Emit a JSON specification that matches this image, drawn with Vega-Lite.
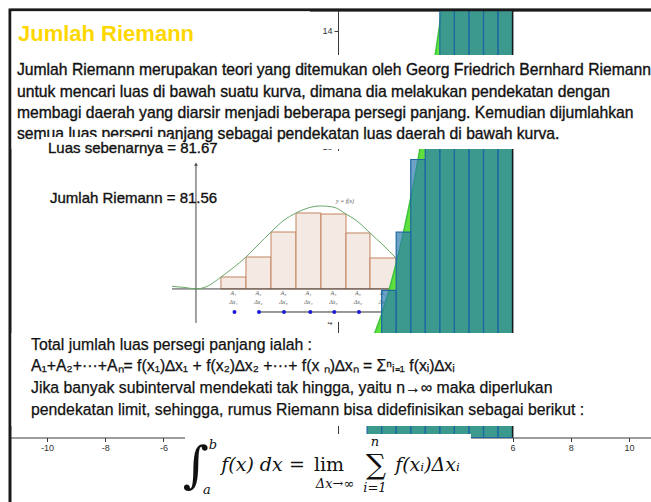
{
  "$schema": "https://vega.github.io/schema/vega-lite/v6.json",
  "width": 643,
  "height": 494,
  "autosize": {"type": "none"},
  "padding": {"left": 10, "top": 10, "right": 0, "bottom": 0},
  "background": "white",
  "view": {"stroke": "#1a1a1a", "strokeWidth": 3},
  "config": {"text": {"font": "Liberation Sans"}},
  "datasets": {
    "picbg": [{"x": -6.117, "x2": 4.192, "y": 9.856, "y2": 3.973}],
    "picbars": [
      {"x": -4.021, "x2": -3.162, "y": 5.11, "y2": 5.521},
      {"x": -3.162, "x2": -2.302, "y": 5.11, "y2": 6.209},
      {"x": -2.302, "x2": -1.443, "y": 5.11, "y2": 7.069},
      {"x": -1.443, "x2": -0.584, "y": 5.11, "y2": 7.723},
      {"x": -0.584, "x2": 0.275, "y": 5.11, "y2": 7.688},
      {"x": 0.275, "x2": 1.1, "y": 5.11, "y2": 7.035},
      {"x": 1.1, "x2": 1.993, "y": 5.11, "y2": 6.175},
      {"x": 1.993, "x2": 2.818, "y": 5.11, "y2": 5.452}
    ],
    "picaxes": [
      {"x": -5.704, "x2": 3.95, "y": 5.11, "y2": 5.11},
      {"x": -4.88, "x2": -4.88, "y": 3.939, "y2": 9.4}
    ],
    "piccurve": [
      {"x": -5.704, "y": 5.2}, {"x": -5.258, "y": 5.16}, {"x": -4.88, "y": 5.11},
      {"x": -4.467, "y": 5.212}, {"x": -4.021, "y": 5.521}, {"x": -3.608, "y": 5.831},
      {"x": -3.162, "y": 6.209}, {"x": -2.749, "y": 6.622}, {"x": -2.302, "y": 7.069},
      {"x": -1.89, "y": 7.448}, {"x": -1.443, "y": 7.723}, {"x": -1.031, "y": 7.895},
      {"x": -0.619, "y": 7.964}, {"x": -0.172, "y": 7.929}, {"x": 0.275, "y": 7.688},
      {"x": 0.687, "y": 7.42}, {"x": 1.1, "y": 7.035}, {"x": 1.546, "y": 6.622},
      {"x": 1.993, "y": 6.175}, {"x": 2.405, "y": 5.762}, {"x": 2.784, "y": 5.452},
      {"x": 3.162, "y": 5.246}, {"x": 3.505, "y": 5.143}, {"x": 3.918, "y": 5.11}
    ],
    "picline": [{"x": -2.715, "x2": 2.416, "y": 4.317}],
    "picdots": [
      {"x": -3.557, "y": 4.317}, {"x": -2.715, "y": 4.317}, {"x": -1.856, "y": 4.317},
      {"x": -0.951, "y": 4.317}, {"x": -0.127, "y": 4.317}, {"x": 0.722, "y": 4.317},
      {"x": 1.591, "y": 4.317}, {"x": 2.416, "y": 4.317}
    ],
    "piclabels": [
      {"x": -3.591, "y": 4.971, "t": "A₁"}, {"x": -2.732, "y": 4.971, "t": "A₂"},
      {"x": -1.873, "y": 4.971, "t": "A₃"}, {"x": -1.014, "y": 4.971, "t": "A₄"},
      {"x": -0.155, "y": 4.971, "t": "A₅"}, {"x": 0.687, "y": 4.971, "t": "A₆"},
      {"x": 1.546, "y": 4.971, "t": "A₇"}, {"x": 2.405, "y": 4.971, "t": "A₈"},
      {"x": -3.591, "y": 4.661, "t": "Δx₁"}, {"x": -2.732, "y": 4.661, "t": "Δx₂"},
      {"x": -1.873, "y": 4.661, "t": "Δx₃"}, {"x": -1.014, "y": 4.661, "t": "Δx₄"},
      {"x": -0.155, "y": 4.661, "t": "Δx₅"}, {"x": 0.687, "y": 4.661, "t": "Δx₆"},
      {"x": 1.546, "y": 4.661, "t": "Δx₇"}, {"x": 2.405, "y": 4.661, "t": "Δx₈"},
      {"x": 0.241, "y": 8.136, "t": "y = f(x)"}, {"x": 3.436, "y": 4.73, "t": "x"}
    ],
    "picarrowx": [{"x": 3.95, "y": 5.11}],
    "picarrowy": [{"x": -4.88, "y": 9.4}],
    "curve": [
      {"x": 1.0, "y": 3.0, "b": 0}, {"x": 1.1, "y": 3.21, "b": 0}, {"x": 1.2, "y": 3.44, "b": 0}, {"x": 1.3, "y": 3.69, "b": 0},
      {"x": 1.4, "y": 3.96, "b": 0}, {"x": 1.5, "y": 4.25, "b": 0}, {"x": 1.6, "y": 4.56, "b": 0}, {"x": 1.7, "y": 4.89, "b": 0},
      {"x": 1.8, "y": 5.24, "b": 0}, {"x": 1.9, "y": 5.61, "b": 0}, {"x": 2.0, "y": 6.0, "b": 0}, {"x": 2.1, "y": 6.41, "b": 0},
      {"x": 2.2, "y": 6.84, "b": 0}, {"x": 2.3, "y": 7.29, "b": 0}, {"x": 2.4, "y": 7.76, "b": 0}, {"x": 2.5, "y": 8.25, "b": 0},
      {"x": 2.6, "y": 8.76, "b": 0}, {"x": 2.7, "y": 9.29, "b": 0}, {"x": 2.8, "y": 9.84, "b": 0}, {"x": 2.9, "y": 10.41, "b": 0},
      {"x": 3.0, "y": 11.0, "b": 0}, {"x": 3.1, "y": 11.61, "b": 0}, {"x": 3.2, "y": 12.24, "b": 0}, {"x": 3.3, "y": 12.89, "b": 0},
      {"x": 3.4, "y": 13.56, "b": 0}, {"x": 3.5, "y": 14.25, "b": 0}, {"x": 3.6, "y": 14.96, "b": 0}, {"x": 3.7, "y": 15.69, "b": 0},
      {"x": 4.0, "y": 18.0, "b": 0}, {"x": 5.0, "y": 27.0, "b": 0}, {"x": 6.0, "y": 38.0, "b": 0}
    ],
    "bars": [
      {"x": 1.0, "x2": 1.5, "y": 0, "y2": 3.5625}, {"x": 1.5, "x2": 2.0, "y": 0, "y2": 5.0625},
      {"x": 2.0, "x2": 2.5, "y": 0, "y2": 7.0625}, {"x": 2.5, "x2": 3.0, "y": 0, "y2": 9.5625},
      {"x": 3.0, "x2": 3.5, "y": 0, "y2": 12.5625}, {"x": 3.5, "x2": 4.0, "y": 0, "y2": 16.0625},
      {"x": 4.0, "x2": 4.5, "y": 0, "y2": 20.0625}, {"x": 4.5, "x2": 5.0, "y": 0, "y2": 24.5625},
      {"x": 5.0, "x2": 5.5, "y": 0, "y2": 29.5625}, {"x": 5.5, "x2": 6.0, "y": 0, "y2": 35.0625}
    ],
    "edge": [{"x": 6.0, "y": 0, "y2": 38.0}],
    "frame": [{"x": -11.271, "x2": 10.825, "y": 14.706, "y2": 14.706}],
    "boxes": [
      {"x": -11.22, "x2": -0.962, "y": 14.665, "y2": 13.158},
      {"x": -11.22, "x2": 10.825, "y": 13.158, "y2": 9.924},
      {"x": -11.22, "x2": 10.825, "y": 3.595, "y2": 0.396},
      {"x": -5.258, "x2": 4.57, "y": 0.12, "y2": -2.288}
    ],
    "title": [{"x": -10.997, "y": 13.88, "t": "Jumlah Riemann"}],
    "para": [
      {"x": -11.031, "y": 12.642, "t": "Jumlah Riemann merupakan teori yang ditemukan oleh Georg Friedrich Bernhard Riemann"},
      {"x": -11.031, "y": 11.886, "t": "untuk mencari luas di bawah suatu kurva, dimana dia melakukan pendekatan dengan"},
      {"x": -11.031, "y": 11.146, "t": "membagi daerah yang diarsir menjadi beberapa persegi panjang. Kemudian dijumlahkan"},
      {"x": -11.031, "y": 10.441, "t": "semua luas persegi panjang sebagai pendekatan luas daerah di bawah kurva."}
    ],
    "luasbox": [{"x": -10.172, "x2": -5.773, "y": 10.337, "y2": 9.65}],
    "luas": [
      {"x": -9.966, "y": 9.959, "t": "Luas sebenarnya = 81.67"},
      {"x": -9.897, "y": 8.237, "t": "Jumlah Riemann = 81.56"}
    ],
    "body": [
      {"x": -10.55, "y": 3.182, "t": "Total jumlah luas persegi panjang ialah :"},
      {"x": -10.55, "y": 2.46, "t": "A₁+A₂+···+Aₙ= f(x₁)∆x₁ + f(x₂)∆x₂ +···+ f(x ₙ)∆xₙ = Σⁿᵢ₌₁ f(xᵢ)∆xᵢ"},
      {"x": -10.55, "y": 1.703, "t": "Jika banyak subinterval mendekati tak hingga, yaitu n→∞ maka diperlukan"},
      {"x": -10.55, "y": 0.946, "t": "pendekatan limit, sehingga, rumus  Riemann bisa didefinisikan sebagai berikut :"}
    ],
    "fint": [{"x": -4.88, "y": -1.0, "t": "∫"}],
    "fsum": [{"x": 1.306, "y": -0.98, "t": "∑"}],
    "fitalic": [
      {"x": -2.955, "y": -0.946, "t": "f(x) dx"},
      {"x": 3.076, "y": -0.946, "t": "f(xᵢ)Δxᵢ"}
    ],
    "fupright": [
      {"x": -1.409, "y": -0.946, "t": "="},
      {"x": -0.309, "y": -0.946, "t": "lim"}
    ],
    "fsmall": [
      {"x": -4.296, "y": -0.258, "t": "b"},
      {"x": -4.502, "y": -1.806, "t": "a"},
      {"x": 1.271, "y": -0.155, "t": "n"},
      {"x": 1.271, "y": -1.737, "t": "i=1"},
      {"x": -0.103, "y": -1.6, "t": "Δx→∞"}
    ]
  },
  "encoding": {
    "x": {
      "field": "x", "type": "quantitative",
      "scale": {"domain": [-11.271, 10.825], "nice": false, "zero": false},
      "axis": {
        "title": null, "values": [-10, -8, -6, -4, -2, 2, 4, 6, 8, 10], "offset": -66.5,
        "grid": false, "domainColor": "#3a3a3a", "tickColor": "#3a3a3a", "tickSize": 4,
        "labelFont": "Liberation Sans", "labelFontSize": 9, "labelColor": "#333333",
        "labelPadding": 2, "labelExpr": "'' + datum.value", "labelFlush": false, "labelOverlap": false
      }
    },
    "y": {
      "field": "y", "type": "quantitative",
      "scale": {"domain": [-2.288, 14.706], "nice": false, "zero": false},
      "axis": {
        "title": null, "values": [2, 4, 6, 8, 10, 12, 14], "offset": -328,
        "grid": false, "domainColor": "#3a3a3a", "tickColor": "#3a3a3a", "tickSize": 4,
        "labelFont": "Liberation Sans", "labelFontSize": 9, "labelColor": "#333333",
        "labelPadding": 2, "labelExpr": "'' + datum.value", "labelFlush": false, "labelOverlap": false
      }
    }
  },
  "layer": [
    {
      "data": {"name": "picbg"},
      "mark": {"type": "rect", "fill": "white"},
      "encoding": {"x2": {"field": "x2"}, "y2": {"field": "y2"}}
    },
    {
      "data": {"name": "picbars"},
      "mark": {"type": "rect", "fill": "#f4e9e3", "stroke": "#c3835f", "strokeWidth": 1},
      "encoding": {"x2": {"field": "x2"}, "y2": {"field": "y2"}}
    },
    {
      "data": {"name": "picaxes"},
      "mark": {"type": "rule", "color": "#444444", "strokeWidth": 1},
      "encoding": {"x2": {"field": "x2"}, "y2": {"field": "y2"}}
    },
    {
      "data": {"name": "piccurve"},
      "mark": {"type": "line", "color": "#6aaa6a", "strokeWidth": 1, "interpolate": "monotone"},
      "encoding": {}
    },
    {
      "data": {"name": "picline"},
      "mark": {"type": "rule", "color": "#333333", "strokeWidth": 1},
      "encoding": {"x2": {"field": "x2"}}
    },
    {
      "data": {"name": "picdots"},
      "mark": {"type": "point", "filled": true, "color": "#1a1ad8", "size": 16, "opacity": 1},
      "encoding": {}
    },
    {
      "data": {"name": "picarrowx"},
      "mark": {"type": "point", "shape": "triangle-right", "filled": true, "color": "#444444", "size": 14, "opacity": 1},
      "encoding": {}
    },
    {
      "data": {"name": "picarrowy"},
      "mark": {"type": "point", "shape": "triangle-up", "filled": true, "color": "#444444", "size": 14, "opacity": 1},
      "encoding": {}
    },
    {
      "data": {"name": "piclabels"},
      "mark": {"type": "text", "font": "Liberation Serif", "fontStyle": "italic", "fontSize": 6, "color": "#555555", "baseline": "middle", "align": "center"},
      "encoding": {"text": {"field": "t"}}
    },
    {
      "data": {"name": "curve"},
      "mark": {"type": "area", "clip": true, "color": "#5fe03c", "opacity": 1},
      "encoding": {"y2": {"field": "b"}}
    },
    {
      "data": {"name": "curve"},
      "mark": {"type": "line", "clip": true, "color": "#3cc43c", "strokeWidth": 1.5},
      "encoding": {}
    },
    {
      "data": {"name": "bars"},
      "mark": {"type": "rect", "clip": true, "fill": "#2d7ab0", "fillOpacity": 0.7, "stroke": "#1d68a0", "strokeWidth": 1.2},
      "encoding": {"x2": {"field": "x2"}, "y2": {"field": "y2"}}
    },
    {
      "data": {"name": "edge"},
      "mark": {"type": "rule", "clip": true, "color": "#1a1a1a", "strokeWidth": 1.5},
      "encoding": {"y2": {"field": "y2"}}
    },
    {
      "data": {"name": "frame"},
      "mark": {"type": "rule", "color": "#1a1a1a", "strokeWidth": 2.5},
      "encoding": {"x2": {"field": "x2"}, "y2": {"field": "y2"}}
    },
    {
      "data": {"name": "boxes"},
      "mark": {"type": "rect", "fill": "white"},
      "encoding": {"x2": {"field": "x2"}, "y2": {"field": "y2"}}
    },
    {
      "data": {"name": "title"},
      "mark": {"type": "text", "font": "Liberation Sans", "fontWeight": "bold", "fontSize": 22, "color": "#FFD700", "align": "left", "baseline": "middle"},
      "encoding": {"text": {"field": "t"}}
    },
    {
      "data": {"name": "para"},
      "mark": {"type": "text", "font": "Liberation Sans", "fontSize": 15.7, "color": "#111111", "stroke": "#111111", "strokeWidth": 0.35, "align": "left", "baseline": "middle"},
      "encoding": {"text": {"field": "t"}}
    },
    {
      "data": {"name": "luasbox"},
      "mark": {"type": "rect", "fill": "white"},
      "encoding": {"x2": {"field": "x2"}, "y2": {"field": "y2"}}
    },
    {
      "data": {"name": "luas"},
      "mark": {"type": "text", "font": "Liberation Sans", "fontSize": 15, "color": "#111111", "stroke": "#111111", "strokeWidth": 0.35, "align": "left", "baseline": "middle"},
      "encoding": {"text": {"field": "t"}}
    },
    {
      "data": {"name": "body"},
      "mark": {"type": "text", "font": "Liberation Sans", "fontSize": 15.8, "color": "#111111", "stroke": "#111111", "strokeWidth": 0.25, "align": "left", "baseline": "middle"},
      "encoding": {"text": {"field": "t"}}
    },
    {
      "data": {"name": "fint"},
      "mark": {"type": "text", "font": "DejaVu Serif", "fontSize": 50, "color": "#111111", "align": "center", "baseline": "middle"},
      "encoding": {"text": {"field": "t"}}
    },
    {
      "data": {"name": "fsum"},
      "mark": {"type": "text", "font": "DejaVu Serif", "fontSize": 28, "color": "#111111", "align": "center", "baseline": "middle"},
      "encoding": {"text": {"field": "t"}}
    },
    {
      "data": {"name": "fitalic"},
      "mark": {"type": "text", "font": "DejaVu Serif", "fontStyle": "italic", "fontSize": 19, "color": "#111111", "align": "center", "baseline": "middle"},
      "encoding": {"text": {"field": "t"}}
    },
    {
      "data": {"name": "fupright"},
      "mark": {"type": "text", "font": "DejaVu Serif", "fontSize": 19, "color": "#111111", "align": "center", "baseline": "middle"},
      "encoding": {"text": {"field": "t"}}
    },
    {
      "data": {"name": "fsmall"},
      "mark": {"type": "text", "font": "DejaVu Serif", "fontStyle": "italic", "fontSize": 13, "color": "#111111", "align": "center", "baseline": "middle"},
      "encoding": {"text": {"field": "t"}}
    }
  ]
}
